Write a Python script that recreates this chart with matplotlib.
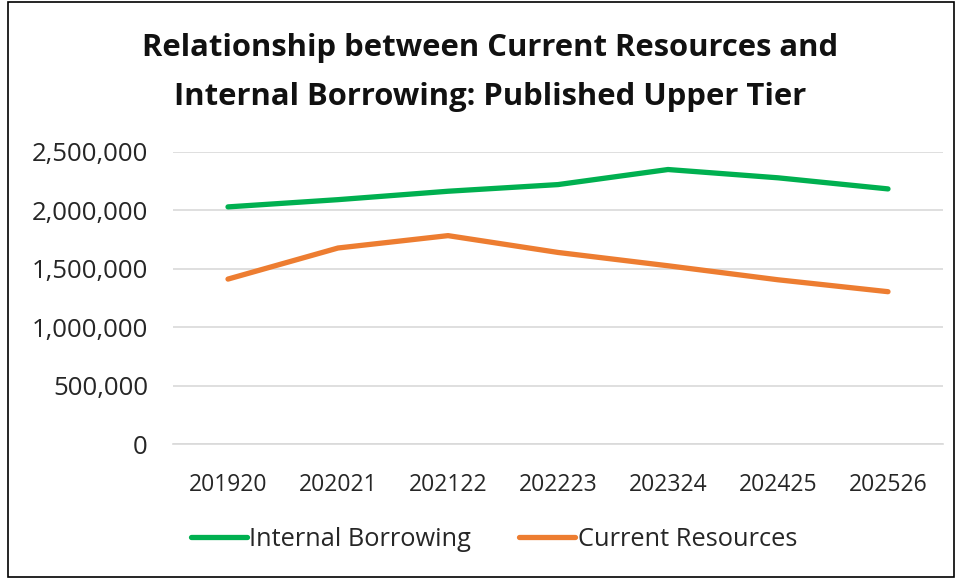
import matplotlib
matplotlib.use('Agg')
import matplotlib.pyplot as plt
from matplotlib.patches import Rectangle
from matplotlib.ticker import FuncFormatter

years = ['201920', '202021', '202122', '202223', '202324', '202425', '202526']
internal_borrowing = [2030000, 2092000, 2164000, 2221000, 2350000, 2279000, 2184000]
current_resources = [1412000, 1678000, 1784000, 1640000, 1526000, 1406000, 1304000]
y_ticks = [0, 500000, 1000000, 1500000, 2000000, 2500000]

plt.rcParams['font.family'] = ['Open Sans', 'DejaVu Sans']

W, H = 958, 578
fig = plt.figure(figsize=(W / 100, H / 100), dpi=100)
fig.patch.set_facecolor('white')
# outer frame of the chart area
fig.add_artist(Rectangle((8 / W, 1 / H), 946 / W, 575 / H, transform=fig.transFigure,
                         fill=False, edgecolor='black', linewidth=1.2))

ax = fig.add_axes([173 / W, 1 - 444 / H, 770 / W, 292 / H])
x = range(len(years))
ax.plot(x, internal_borrowing, color='#00B050', lw=3.8, solid_capstyle='round', label='Internal Borrowing')
ax.plot(x, current_resources, color='#ED7D31', lw=3.8, solid_capstyle='round', label='Current Resources')

ax.set_xlim(-0.5, len(years) - 0.5)
ax.set_ylim(0, 2500000)
ax.set_yticks(y_ticks)
ax.yaxis.set_major_formatter(FuncFormatter(lambda v, p: f'{int(v):,}'))
ax.set_xticks(list(x))
ax.set_xticklabels(years)
ax.grid(axis='y', color='#D9D9D9', lw=1.2)
ax.set_axisbelow(True)
for s in ['top', 'right', 'left']:
    ax.spines[s].set_visible(False)
ax.spines['bottom'].set_color('#D9D9D9')
ax.spines['bottom'].set_linewidth(1.2)
ax.tick_params(axis='x', length=0, labelsize=16.5, colors='#262626', pad=21)
ax.tick_params(axis='y', length=0, labelsize=18.5, colors='#262626', pad=18)

fig.text(490 / W, 1 - 48 / H, 'Relationship between Current Resources and', ha='center', va='center',
         fontsize=22.3, fontweight='bold', color='#111111')
fig.text(490 / W, 1 - 97 / H, 'Internal Borrowing: Published Upper Tier', ha='center', va='center',
         fontsize=22.3, fontweight='bold', color='#111111')

fig.legend(loc='center', bbox_to_anchor=(494 / W, 1 - 539 / H), ncol=2, frameon=False,
           fontsize=18.3, handlelength=2.2, handletextpad=0.1, columnspacing=1.9, labelcolor='#262626')

fig.savefig('out.png', dpi=100)
